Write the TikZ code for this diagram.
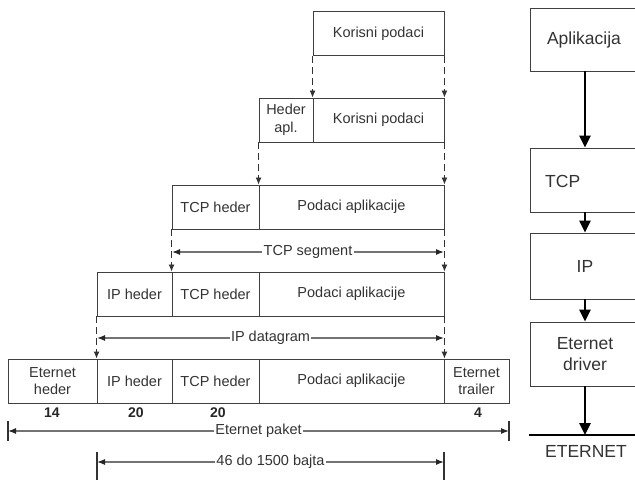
\documentclass[tikz,border=0pt]{standalone}
\usepackage{fontspec}
\setmainfont{Liberation Sans}
\usetikzlibrary{arrows.meta}
\tikzset{
  cell/.style={draw=black!75, line width=0.9pt, minimum height=44pt, inner sep=0pt,
    align=center, text=black!80, font=\fontsize{14.5}{17}\selectfont},
  dashar/.style={draw=black!80, line width=0.9pt, dash pattern=on 7pt off 4pt,
    -{Latex[length=7pt,width=6pt]}},
  dimline/.style={draw=black!55, line width=1.2pt,
    {Latex[length=8pt,width=6pt,black!85]}-{Latex[length=8pt,width=6pt,black!85]}},
  dimlabel/.style={fill=white, inner sep=1.5pt, text=black!80, font=\fontsize{14.5}{17}\selectfont},
  dimtick/.style={draw=black!80, line width=1.2pt},
  layer/.style={draw=black!75, line width=0.9pt, minimum width=110pt, inner sep=0pt,
    align=center, text=black!80, font=\fontsize{17.5}{21}\selectfont},
  txt/.style={inner sep=0pt, text=black!80, font=\fontsize{17.5}{21}\selectfont},
  bigarrow/.style={draw=black, line width=2.5pt, -{Triangle[length=12pt,width=11pt]}},
  num/.style={inner sep=0pt, text=black!85, font=\bfseries\fontsize{14}{16}\selectfont}
}
\begin{document}
\begin{tikzpicture}[x=1pt,y=-1pt]
\useasboundingbox (0,0) rectangle (635,481);
% Row 1
\node[cell, minimum width=131pt] (K1) at (378.5,33.5) {Korisni podaci};
% Row 2
\node[cell, minimum width=54pt, font=\fontsize{14.5}{18}\selectfont] (H2) at (286,120) {Heder\\apl.};
\node[cell, minimum width=131pt] (K2) at (378.5,120) {Korisni podaci};
% Row 3
\node[cell, minimum width=87pt] (T3) at (215.5,207) {TCP heder};
\node[cell, minimum width=185pt] (P3) at (351.5,207) {Podaci aplikacije};
% Row 4
\node[cell, minimum width=75pt] (I4) at (134.5,294) {IP heder};
\node[cell, minimum width=87pt] (T4) at (215.5,294) {TCP heder};
\node[cell, minimum width=185pt] (P4) at (351.5,294) {Podaci aplikacije};
% Row 5
\node[cell, minimum width=89pt] (E5) at (52.5,381) {Eternet\\heder};
\node[cell, minimum width=75pt] (I5) at (134.5,381) {IP heder};
\node[cell, minimum width=87pt] (T5) at (215.5,381) {TCP heder};
\node[cell, minimum width=185pt] (P5) at (351.5,381) {Podaci aplikacije};
\node[cell, minimum width=65pt] (R5) at (476.5,381) {Eternet\\trailer};
% dashed arrows
\draw[dashar] (K1.south west) -- (K2.north west);
\draw[dashar] (K1.south east) -- (K2.north east);
\draw[dashar] (H2.south west) -- (P3.north west);
\draw[dashar] (K2.south east) -- (P3.north east);
\draw[dashar] (T3.south west) -- (T4.north west);
\draw[dashar] (P3.south east) -- (P4.north east);
\draw[dashar] (I4.south west) -- (I5.north west);
\draw[dashar] (P4.south east) -- (P5.north east);
% numbers
\node[num] (n14) at (52,413) {14};
\node[num] (n20a) at (136,413) {20};
\node[num] (n20b) at (218,413) {20};
\node[num] (n4) at (478,413) {4};
% dimension lines
\coordinate (ts1) at (172,252); \coordinate (ts2) at (444,252);
\draw[dimline] (ts1) -- node[dimlabel] (tsl) {TCP segment} (ts2);
\coordinate (id1) at (97,338); \coordinate (id2) at (444,338);
\draw[dimline] (id1) -- node[dimlabel] (idl) {IP datagram} (id2);
\coordinate (ep1) at (8,431); \coordinate (ep2) at (509,431);
\coordinate (ep1a) at (8,421); \coordinate (ep1b) at (8,441);
\coordinate (ep2a) at (509,421); \coordinate (ep2b) at (509,441);
\draw[dimtick] (ep1a) -- (ep1b);
\draw[dimtick] (ep2a) -- (ep2b);
\draw[dimline] (ep1) -- node[dimlabel] (epl) {Eternet paket} (ep2);
\coordinate (b1) at (97,462); \coordinate (b2) at (444,462);
\coordinate (b1a) at (97,452); \coordinate (b1b) at (97,480);
\coordinate (b2a) at (444,452); \coordinate (b2b) at (444,480);
\draw[dimtick] (b1a) -- (b1b);
\draw[dimtick] (b2a) -- (b2b);
\draw[dimline] (b1) -- node[dimlabel] (bl) {46 do 1500 bajta} (b2);
% right stack
\begin{scope}
\clip (0,0) rectangle (635,481);
\node[layer, minimum height=63pt] (A) at (585,39.5) {};
\node[txt] (At) at (584,40) {Aplikacija};
\node[layer, minimum height=64pt] (TCP) at (585,180) {};
\node[txt, anchor=west] (TCPt) at (545,181) {TCP};
\node[layer, minimum height=66pt] (IP) at (585,266) {IP};
\node[layer, minimum height=64pt] (ED) at (585,354) {Eternet\\driver};
\coordinate (net1) at (529,435); \coordinate (net2) at (640,435);
\draw[line width=2.2pt] (net1) -- (net2);
\coordinate (netc) at (585,435);
\end{scope}
\node[txt] (net) at (586,451) {ETERNET};
\draw[bigarrow] (A.south) -- (TCP.north);
\draw[bigarrow] (TCP.south) -- (IP.north);
\draw[bigarrow] (IP.south) -- (ED.north);
\draw[bigarrow] (ED.south) -- (netc);
\end{tikzpicture}
\end{document}
